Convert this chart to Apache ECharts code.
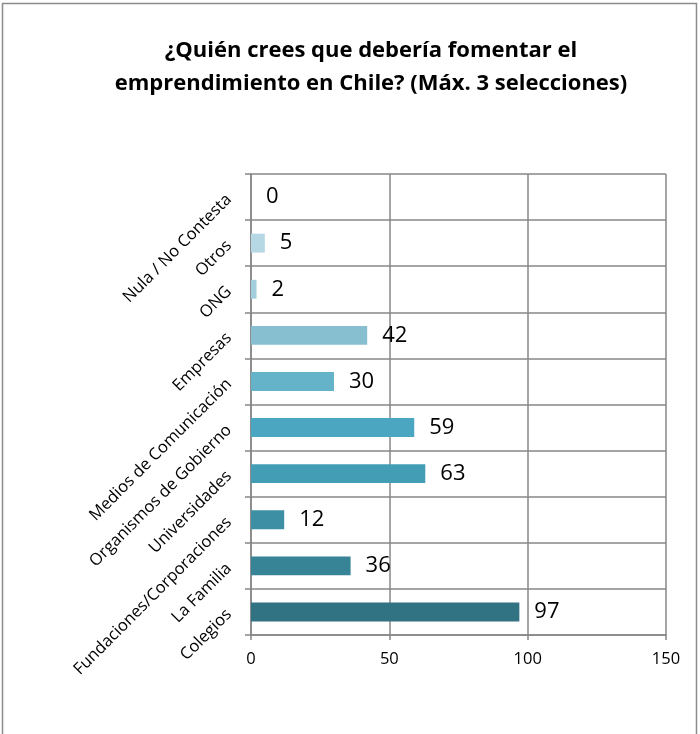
<!DOCTYPE html>
<html>
<head>
<meta charset="utf-8">
<script src="https://cdn.jsdelivr.net/npm/echarts@6/dist/echarts.min.js"></script>
<style>
html,body{margin:0;padding:0;background:#fff;}
#chart{width:700px;height:734px;}
</style>
</head>
<body>
<div id="chart"></div>
<script>
const categories = ["Colegios","La Familia","Fundaciones/Corporaciones","Universidades","Organismos de Gobierno","Medios de Comunicación","Empresas","ONG","Otros","Nula / No Contesta"];
const values = [97, 36, 12, 63, 59, 30, 42, 2, 5, 0];
const xTicks = [0, 50, 100, 150];
const barColors = ["#327383","#378497","#3d8fa3","#439db4","#4aa6c1","#65b3c9","#88bfd0","#a2cede","#b6d8e4","#c8e2ec"];
const titleText = "¿Quién crees que debería fomentar el\nemprendimiento en Chile? (Máx. 3 selecciones)";

const chart = echarts.init(document.getElementById('chart'));
const gridColor = '#878787';
chart.setOption({
  animation: false,
  graphic: [{
    type: 'rect', silent: true,
    shape: {x: 2.5, y: 3.5, width: 694, height: 760},
    style: {fill: 'none', stroke: '#8c8c8c', lineWidth: 1.5}
  }],
  title: {
    text: titleText,
    left: 366, top: 29, textAlign: 'center',
    textStyle: {fontFamily: 'Open Sans', fontWeight: 'bold', fontSize: 22, lineHeight: 33, color: '#000'}
  },
  grid: {left: 251, right: 34, top: 174, bottom: 99, containLabel: false},
  xAxis: {
    type: 'value', min: xTicks[0], max: xTicks[xTicks.length-1], interval: xTicks[1]-xTicks[0],
    axisLine: {show: true, lineStyle: {color: gridColor, width: 1.5}},
    axisTick: {show: true, length: 5, lineStyle: {color: gridColor, width: 1.5}},
    axisLabel: {fontFamily: 'Open Sans', fontSize: 16.5, color: '#000', margin: 16},
    splitLine: {show: true, lineStyle: {color: gridColor, width: 1.5}}
  },
  yAxis: {
    type: 'category', data: categories,
    axisLine: {show: true, lineStyle: {color: gridColor, width: 1.5}},
    axisTick: {show: true, length: 6, lineStyle: {color: gridColor, width: 1.5}},
    axisLabel: {rotate: 45, fontFamily: 'Open Sans', fontSize: 16.5, color: '#000', margin: 22},
    splitLine: {show: true, lineStyle: {color: gridColor, width: 1.5}}
  },
  series: [{
    type: 'bar',
    barWidth: '41%',
    data: values.map((v, i) => ({value: v, itemStyle: {color: barColors[i]}})),
    label: {show: true, position: 'right', distance: 15, fontFamily: 'Open Sans', fontSize: 22, color: '#000'}
  }]
});
</script>
</body>
</html>
